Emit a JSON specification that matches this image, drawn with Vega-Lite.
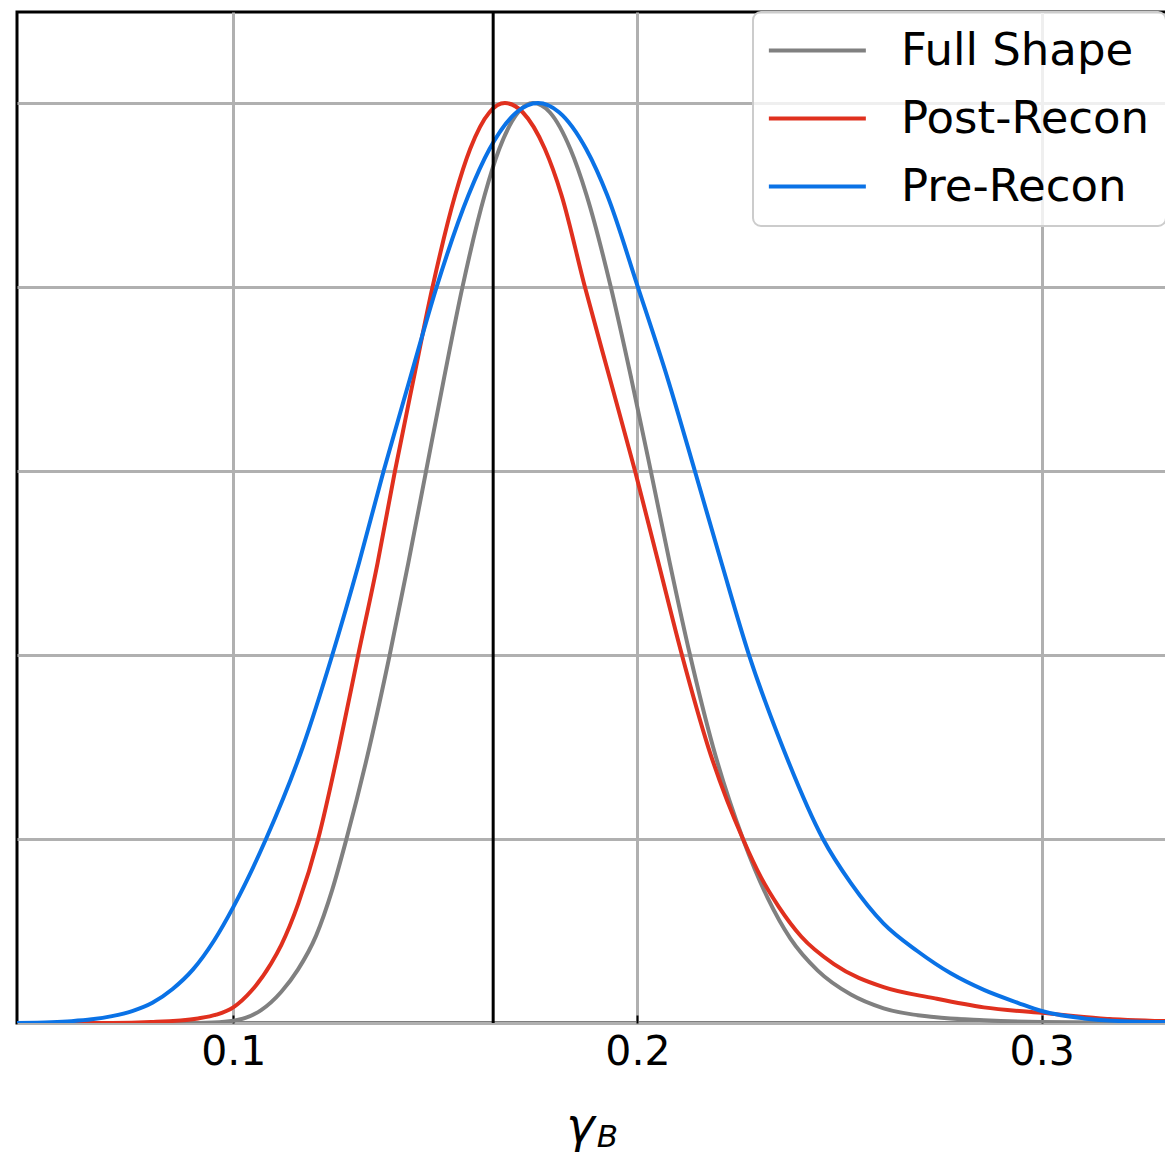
{
  "$schema": "https://vega.github.io/schema/vega-lite/v6.json",
  "width": 1150,
  "height": 1011,
  "autosize": {"type": "none"},
  "padding": {"left": 17, "top": 12, "right": 0, "bottom": 131},
  "background": "white",
  "config": {
    "view": {"stroke": "black", "strokeWidth": 3},
    "font": "DejaVu Sans",
    "legend": {
      "orient": "none",
      "legendX": 736,
      "legendY": 0,
      "title": null,
      "symbolType": "M-1.4,0H4.6",
      "symbolStrokeWidth": 4,
      "symbolSize": 1045,
      "symbolFillColor": "transparent",
      "labelFontSize": 45,
      "labelFont": "DejaVu Sans",
      "labelColor": "black",
      "labelOffset": 87,
      "labelLimit": 0,
      "rowPadding": 22,
      "padding": 16,
      "strokeColor": "#cccccc",
      "strokeWidth": 2,
      "fillColor": "rgba(255,255,255,0.8)",
      "cornerRadius": 8
    }
  },
  "datasets": {
    "curves": [
      {"s": "Full Shape", "x": 0.0465, "y": 0.0},
      {"s": "Full Shape", "x": 0.088, "y": 0.0},
      {"s": "Full Shape", "x": 0.095, "y": 0.0006},
      {"s": "Full Shape", "x": 0.1, "y": 0.0025},
      {"s": "Full Shape", "x": 0.103, "y": 0.0055},
      {"s": "Full Shape", "x": 0.1069, "y": 0.014},
      {"s": "Full Shape", "x": 0.1119, "y": 0.034},
      {"s": "Full Shape", "x": 0.116, "y": 0.058},
      {"s": "Full Shape", "x": 0.1205, "y": 0.095},
      {"s": "Full Shape", "x": 0.1245, "y": 0.145},
      {"s": "Full Shape", "x": 0.128, "y": 0.2},
      {"s": "Full Shape", "x": 0.1337, "y": 0.3},
      {"s": "Full Shape", "x": 0.1387, "y": 0.4},
      {"s": "Full Shape", "x": 0.1433, "y": 0.5},
      {"s": "Full Shape", "x": 0.1477, "y": 0.6},
      {"s": "Full Shape", "x": 0.1521, "y": 0.7},
      {"s": "Full Shape", "x": 0.1567, "y": 0.8},
      {"s": "Full Shape", "x": 0.1622, "y": 0.9},
      {"s": "Full Shape", "x": 0.1658, "y": 0.95},
      {"s": "Full Shape", "x": 0.1705, "y": 0.99},
      {"s": "Full Shape", "x": 0.1742, "y": 1.0},
      {"s": "Full Shape", "x": 0.1783, "y": 0.99},
      {"s": "Full Shape", "x": 0.1834, "y": 0.95},
      {"s": "Full Shape", "x": 0.1874, "y": 0.9},
      {"s": "Full Shape", "x": 0.1934, "y": 0.8},
      {"s": "Full Shape", "x": 0.1985, "y": 0.7},
      {"s": "Full Shape", "x": 0.2033, "y": 0.6},
      {"s": "Full Shape", "x": 0.208, "y": 0.5},
      {"s": "Full Shape", "x": 0.213, "y": 0.4},
      {"s": "Full Shape", "x": 0.2187, "y": 0.3},
      {"s": "Full Shape", "x": 0.2261, "y": 0.2},
      {"s": "Full Shape", "x": 0.2322, "y": 0.136},
      {"s": "Full Shape", "x": 0.2378, "y": 0.092},
      {"s": "Full Shape", "x": 0.2446, "y": 0.057},
      {"s": "Full Shape", "x": 0.2528, "y": 0.031},
      {"s": "Full Shape", "x": 0.2609, "y": 0.016},
      {"s": "Full Shape", "x": 0.2733, "y": 0.0065},
      {"s": "Full Shape", "x": 0.2857, "y": 0.003},
      {"s": "Full Shape", "x": 0.3, "y": 0.001},
      {"s": "Full Shape", "x": 0.331, "y": 0.0},
      {"s": "Post-Recon", "x": 0.0465, "y": 0.0},
      {"s": "Post-Recon", "x": 0.07, "y": 0.0},
      {"s": "Post-Recon", "x": 0.0797, "y": 0.001},
      {"s": "Post-Recon", "x": 0.0913, "y": 0.005},
      {"s": "Post-Recon", "x": 0.0958, "y": 0.009},
      {"s": "Post-Recon", "x": 0.1, "y": 0.017},
      {"s": "Post-Recon", "x": 0.1045, "y": 0.035},
      {"s": "Post-Recon", "x": 0.1094, "y": 0.065},
      {"s": "Post-Recon", "x": 0.1119, "y": 0.085},
      {"s": "Post-Recon", "x": 0.1161, "y": 0.13},
      {"s": "Post-Recon", "x": 0.121, "y": 0.2},
      {"s": "Post-Recon", "x": 0.1262, "y": 0.3},
      {"s": "Post-Recon", "x": 0.1309, "y": 0.4},
      {"s": "Post-Recon", "x": 0.1357, "y": 0.5},
      {"s": "Post-Recon", "x": 0.14, "y": 0.6},
      {"s": "Post-Recon", "x": 0.1446, "y": 0.7},
      {"s": "Post-Recon", "x": 0.1493, "y": 0.8},
      {"s": "Post-Recon", "x": 0.1549, "y": 0.9},
      {"s": "Post-Recon", "x": 0.1586, "y": 0.95},
      {"s": "Post-Recon", "x": 0.1634, "y": 0.99},
      {"s": "Post-Recon", "x": 0.1672, "y": 1.0},
      {"s": "Post-Recon", "x": 0.1716, "y": 0.99},
      {"s": "Post-Recon", "x": 0.1771, "y": 0.95},
      {"s": "Post-Recon", "x": 0.1812, "y": 0.9},
      {"s": "Post-Recon", "x": 0.187, "y": 0.8},
      {"s": "Post-Recon", "x": 0.1932, "y": 0.7},
      {"s": "Post-Recon", "x": 0.1994, "y": 0.6},
      {"s": "Post-Recon", "x": 0.2052, "y": 0.5},
      {"s": "Post-Recon", "x": 0.211, "y": 0.4},
      {"s": "Post-Recon", "x": 0.2175, "y": 0.3},
      {"s": "Post-Recon", "x": 0.2261, "y": 0.2},
      {"s": "Post-Recon", "x": 0.2306, "y": 0.158},
      {"s": "Post-Recon", "x": 0.235, "y": 0.126},
      {"s": "Post-Recon", "x": 0.2405, "y": 0.094},
      {"s": "Post-Recon", "x": 0.2486, "y": 0.064},
      {"s": "Post-Recon", "x": 0.2609, "y": 0.039},
      {"s": "Post-Recon", "x": 0.2733, "y": 0.027},
      {"s": "Post-Recon", "x": 0.2857, "y": 0.017},
      {"s": "Post-Recon", "x": 0.3, "y": 0.011},
      {"s": "Post-Recon", "x": 0.3146, "y": 0.005},
      {"s": "Post-Recon", "x": 0.331, "y": 0.002},
      {"s": "Pre-Recon", "x": 0.0465, "y": 0.0},
      {"s": "Pre-Recon", "x": 0.055, "y": 0.0008},
      {"s": "Pre-Recon", "x": 0.06, "y": 0.002},
      {"s": "Pre-Recon", "x": 0.065, "y": 0.004},
      {"s": "Pre-Recon", "x": 0.07, "y": 0.0075},
      {"s": "Pre-Recon", "x": 0.075, "y": 0.013},
      {"s": "Pre-Recon", "x": 0.08, "y": 0.022},
      {"s": "Pre-Recon", "x": 0.085, "y": 0.037},
      {"s": "Pre-Recon", "x": 0.09, "y": 0.058},
      {"s": "Pre-Recon", "x": 0.0953, "y": 0.09},
      {"s": "Pre-Recon", "x": 0.1, "y": 0.126},
      {"s": "Pre-Recon", "x": 0.1081, "y": 0.2},
      {"s": "Pre-Recon", "x": 0.1172, "y": 0.3},
      {"s": "Pre-Recon", "x": 0.1245, "y": 0.4},
      {"s": "Pre-Recon", "x": 0.1311, "y": 0.5},
      {"s": "Pre-Recon", "x": 0.1372, "y": 0.6},
      {"s": "Pre-Recon", "x": 0.1437, "y": 0.7},
      {"s": "Pre-Recon", "x": 0.1503, "y": 0.8},
      {"s": "Pre-Recon", "x": 0.1582, "y": 0.9},
      {"s": "Pre-Recon", "x": 0.1634, "y": 0.95},
      {"s": "Pre-Recon", "x": 0.1701, "y": 0.99},
      {"s": "Pre-Recon", "x": 0.1754, "y": 1.0},
      {"s": "Pre-Recon", "x": 0.1806, "y": 0.99},
      {"s": "Pre-Recon", "x": 0.1873, "y": 0.95},
      {"s": "Pre-Recon", "x": 0.1925, "y": 0.9},
      {"s": "Pre-Recon", "x": 0.2001, "y": 0.8},
      {"s": "Pre-Recon", "x": 0.2075, "y": 0.7},
      {"s": "Pre-Recon", "x": 0.2142, "y": 0.6},
      {"s": "Pre-Recon", "x": 0.2208, "y": 0.5},
      {"s": "Pre-Recon", "x": 0.2276, "y": 0.4},
      {"s": "Pre-Recon", "x": 0.2359, "y": 0.3},
      {"s": "Pre-Recon", "x": 0.2459, "y": 0.2},
      {"s": "Pre-Recon", "x": 0.2528, "y": 0.152},
      {"s": "Pre-Recon", "x": 0.2609, "y": 0.108},
      {"s": "Pre-Recon", "x": 0.2693, "y": 0.078},
      {"s": "Pre-Recon", "x": 0.2775, "y": 0.054},
      {"s": "Pre-Recon", "x": 0.2857, "y": 0.036},
      {"s": "Pre-Recon", "x": 0.2941, "y": 0.022},
      {"s": "Pre-Recon", "x": 0.3, "y": 0.013},
      {"s": "Pre-Recon", "x": 0.3104, "y": 0.005},
      {"s": "Pre-Recon", "x": 0.32, "y": 0.002},
      {"s": "Pre-Recon", "x": 0.331, "y": 0.001}
    ],
    "ref": [{"g": 0.1643}]
  },
  "resolve": {"axis": {"x": "independent"}},
  "layer": [
    {
      "data": {"name": "curves"},
      "mark": {"type": "line", "strokeWidth": 4, "interpolate": "monotone", "clip": true},
      "encoding": {
        "x": {
          "field": "x", "type": "quantitative",
          "scale": {"domain": [0.0465, 0.331], "nice": false, "zero": false},
          "axis": {
            "values": [0.1, 0.2, 0.3],
            "format": ".1f",
            "grid": true, "gridColor": "#b0b0b0", "gridWidth": 3,
            "domain": false,
            "ticks": true, "tickColor": "black", "tickWidth": 2, "tickSize": -8,
            "labelFontSize": 41, "labelFont": "DejaVu Sans", "labelColor": "black",
            "labelPadding": 17, "labelBaseline": "top",
            "title": "γ", "titleFont": "DejaVu Sans", "titleFontStyle": "italic",
            "titleFontWeight": "normal", "titleFontSize": 48, "titleColor": "black",
            "titleX": 563, "titleY": 118, "titleBaseline": "alphabetic", "titleAlign": "center", "titleAnchor": null
          }
        },
        "y": {
          "field": "y", "type": "quantitative",
          "scale": {"domain": [0, 1.099], "nice": false},
          "axis": {
            "values": [0, 0.2, 0.4, 0.6, 0.8, 1.0],
            "grid": true, "gridColor": "#b0b0b0", "gridWidth": 3,
            "domain": false, "ticks": false, "labels": false, "title": null
          }
        },
        "color": {
          "field": "s", "type": "nominal",
          "scale": {"domain": ["Full Shape", "Post-Recon", "Pre-Recon"], "range": ["#808080", "#e0301e", "#0a72e6"]},
          "legend": {}
        }
      }
    },
    {
      "data": {"name": "ref"},
      "mark": {"type": "rule", "color": "black", "strokeWidth": 3},
      "encoding": {
        "x": {
          "field": "g", "type": "quantitative",
          "axis": {
            "orient": "top", "grid": false, "domain": false, "ticks": false, "labels": false,
            "title": "B", "titleFont": "DejaVu Sans", "titleFontStyle": "italic",
            "titleFontWeight": "normal", "titleFontSize": 31, "titleColor": "black",
            "titleX": 590, "titleY": 1134, "titleBaseline": "alphabetic", "titleAlign": "center", "titleAnchor": null
          }
        }
      }
    }
  ]
}
